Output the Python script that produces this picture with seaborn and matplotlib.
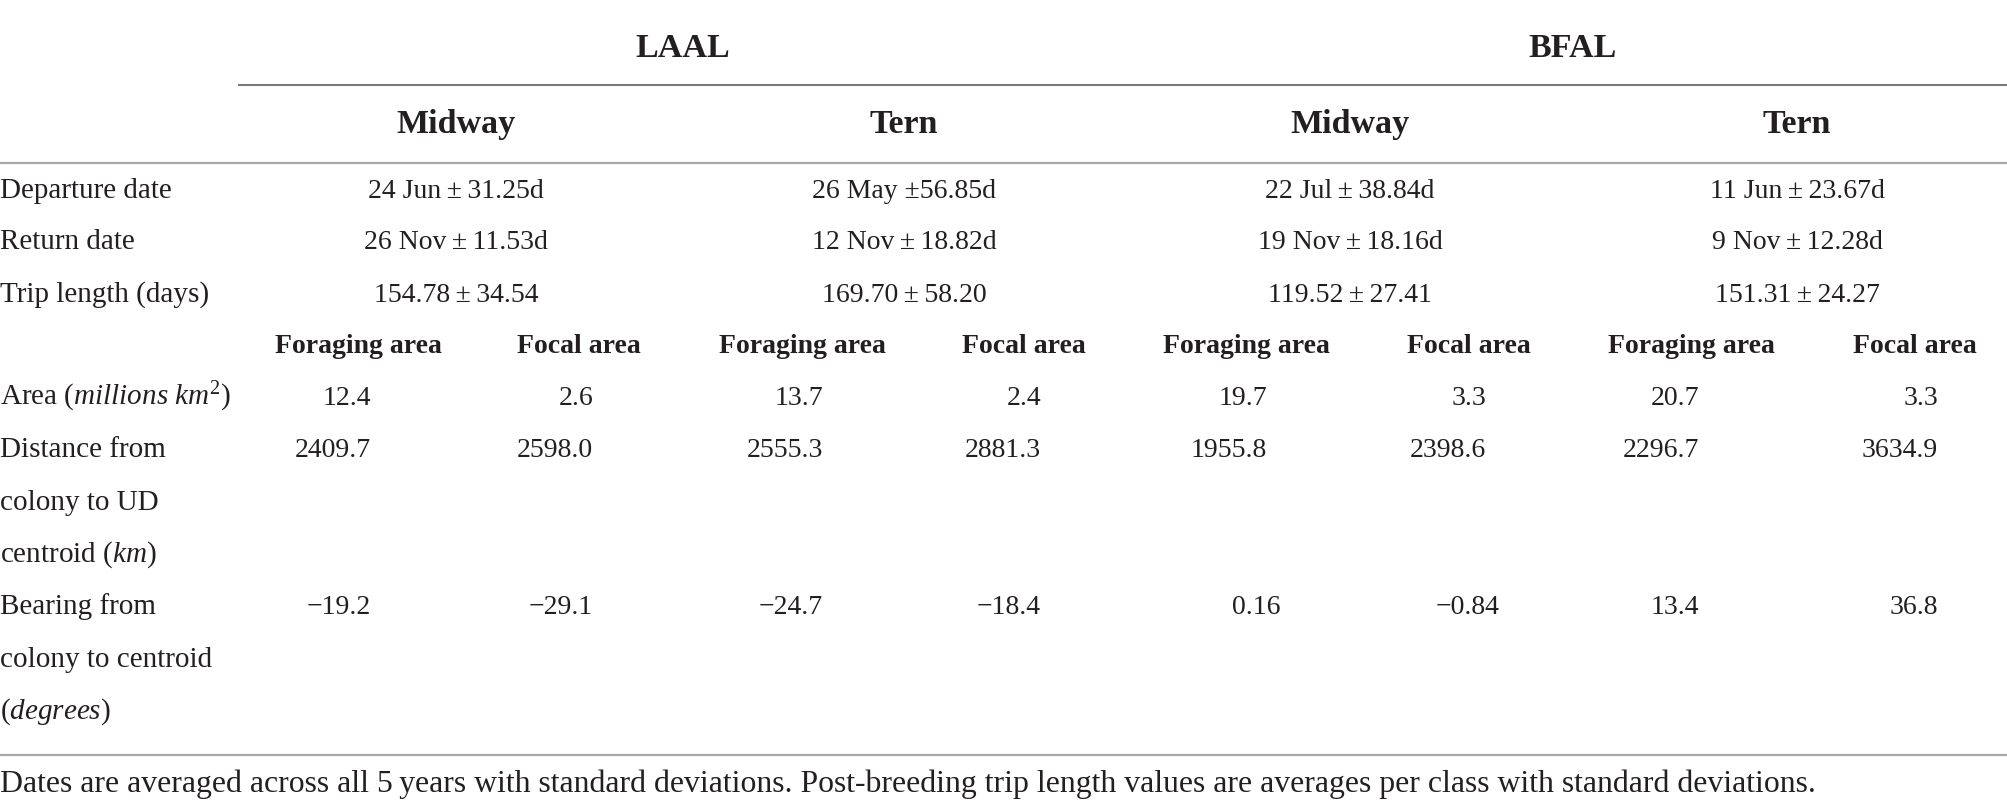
import matplotlib
matplotlib.use("Agg")
import matplotlib.pyplot as plt
import seaborn as sns

# ---------------- data ----------------
species = ["LAAL", "BFAL"]
colonies = ["Midway", "Tern", "Midway", "Tern"]
row_labels = ["Departure date", "Return date", "Trip length (days)"]
departure = ["24 Jun\u2009±\u200931.25d", "26 May ±56.85d", "22 Jul\u2009±\u200938.84d", "11 Jun\u2009±\u200923.67d"]
return_date = ["26 Nov\u2009±\u200911.53d", "12 Nov\u2009±\u200918.82d", "19 Nov\u2009±\u200918.16d", "9 Nov\u2009±\u200912.28d"]
trip_length = ["154.78\u2009±\u200934.54", "169.70\u2009±\u200958.20", "119.52\u2009±\u200927.41", "151.31\u2009±\u200924.27"]
sub_headers = ["Foraging area", "Focal area"] * 4
area_label = [r"Area ($\mathit{millions\ km}^{2}$)"]
area = ["12.4", "2.6", "13.7", "2.4", "19.7", "3.3", "20.7", "3.3"]
distance_label = ["Distance from", "colony to UD", r"centroid ($\mathit{km}$)"]
distance = ["2409.7", "2598.0", "2555.3", "2881.3", "1955.8", "2398.6", "2296.7", "3634.9"]
bearing_label = ["Bearing from", "colony to centroid", r"($\mathit{degrees}$)"]
bearing = ["\u221219.2", "\u221229.1", "\u221224.7", "\u221218.4", "0.16", "\u22120.84", "13.4", "36.8"]
footnote = ("Dates are averaged across all 5\u2009years with standard deviations. "
            "Post-breeding trip length values are averages per class with standard deviations.")

# ---------------- style ----------------
sns.set_theme(style="white")
plt.rcParams["font.family"] = ["Liberation Serif", "DejaVu Serif"]
plt.rcParams["mathtext.fontset"] = "custom"
plt.rcParams["mathtext.rm"] = "Liberation Serif"
plt.rcParams["mathtext.it"] = "Liberation Serif:italic"
plt.rcParams["mathtext.bf"] = "Liberation Serif:bold"

TXT = "#231f20"
FS = 20      # values / sub headers
FS_L = 21    # row labels
FS_H = 24.5  # headers
FS_F = 22.85 # footnote

W, H = 2008, 812
fig = plt.figure(figsize=(W / 100, H / 100), dpi=100)
ax = fig.add_axes([0, 0, 1, 1])
ax.set_xlim(0, W)
ax.set_ylim(H, 0)
ax.axis("off")
renderer = fig.canvas.get_renderer()

# layout (pixel coordinates)
species_x = [683, 1573]
colony_x = [456, 904, 1350, 1797]
sub_x = [358, 579, 802, 1024, 1246, 1469, 1691, 1915]
val_right = [371, 593, 823, 1041, 1267, 1486, 1699, 1938]

y_species = 57
y_colony = 133
y_rows = [198, 249, 302]
y_sub = 353
y_area = 405
y_dist = [457, 510, 562]
y_bear = [614, 667, 719]
y_foot = 792

# rules
ax.plot([238, W], [86, 86], color="#7a7a7a", lw=1.5, solid_capstyle="butt")
ax.plot([0, W], [164, 164], color="#a8a8a8", lw=1.6, solid_capstyle="butt")
ax.plot([0, W], [756, 756], color="#a8a8a8", lw=1.6, solid_capstyle="butt")

# headers
for s, x in zip(species, species_x):
    ax.text(x, y_species, s, ha="center", va="baseline", fontsize=FS_H, fontweight="bold", color=TXT)
for c, x in zip(colonies, colony_x):
    ax.text(x, y_colony, c, ha="center", va="baseline", fontsize=FS_H, fontweight="bold", color=TXT)

# first three rows
for lab, vals, y in zip(row_labels, [departure, return_date, trip_length], y_rows):
    ax.text(0, y, lab, ha="left", va="baseline", fontsize=FS_L, color=TXT)
    for v, x in zip(vals, colony_x):
        ax.text(x, y, v, ha="center", va="baseline", fontsize=FS, color=TXT)

# sub headers
for s, x in zip(sub_headers, sub_x):
    ax.text(x, y_sub, s, ha="center", va="baseline", fontsize=FS, fontweight="bold", color=TXT)


def text_w(s):
    t = ax.text(0, 0, s, fontsize=FS)
    w = t.get_window_extent(renderer).width
    t.remove()
    return w


# decimal-aligned values (decimal point position per column)
dec_x = [r - text_w(".0") for r in val_right]


def dec_row(vals, y):
    for v, x in zip(vals, dec_x):
        fp = v.split(".")[1]
        ax.text(x + text_w("." + fp), y, v, ha="right", va="baseline", fontsize=FS, color=TXT)


ax.text(0, y_area, area_label[0], ha="left", va="baseline", fontsize=FS_L, color=TXT)
dec_row(area, y_area)

for lab, y in zip(distance_label, y_dist):
    ax.text(0, y, lab, ha="left", va="baseline", fontsize=FS_L, color=TXT)
dec_row(distance, y_dist[0])

for lab, y in zip(bearing_label, y_bear):
    ax.text(0, y, lab, ha="left", va="baseline", fontsize=FS_L, color=TXT)
dec_row(bearing, y_bear[0])

ax.text(0, y_foot, footnote, ha="left", va="baseline", fontsize=FS_F, color=TXT)

fig.savefig("out.png", dpi=100)
